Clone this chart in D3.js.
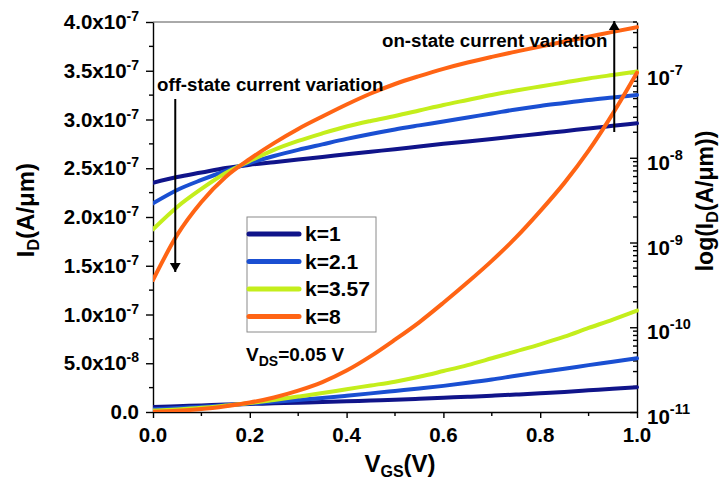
<!DOCTYPE html>
<html>
<head>
<meta charset="utf-8">
<script src="https://cdn.jsdelivr.net/npm/d3@7"></script>
<style>
  html, body { margin: 0; padding: 0; background: #fff; }
  svg { display: block; font-family: "Liberation Sans", Arial, sans-serif; font-weight: bold; }
</style>
</head>
<body>
<svg id="chart" width="723" height="481"></svg>
<script>
// Gate voltage sweep (V)
const vgs = [0, 0.05, 0.1, 0.15, 0.2, 0.25, 0.3, 0.35, 0.4, 0.45, 0.5,
             0.55, 0.6, 0.65, 0.7, 0.75, 0.8, 0.85, 0.9, 0.95, 1.0];

// Drain current I_D (A/um) for each k at VDS = 0.05 V
const idK1   = [5.08e-9, 5.93e-9, 6.70e-9, 7.57e-9, 8.26e-9, 8.87e-9, 9.52e-9, 1.02e-8, 1.10e-8, 1.18e-8, 1.26e-8,
                1.36e-8, 1.46e-8, 1.56e-8, 1.67e-8, 1.79e-8, 1.92e-8, 2.06e-8, 2.22e-8, 2.38e-8, 2.55e-8];
const idK21  = [2.90e-9, 4.17e-9, 5.47e-9, 6.98e-9, 8.67e-9, 1.05e-8, 1.24e-8, 1.44e-8, 1.67e-8, 1.91e-8, 2.16e-8,
                2.41e-8, 2.68e-8, 2.99e-8, 3.33e-8, 3.72e-8, 4.09e-8, 4.43e-8, 4.81e-8, 5.15e-8, 5.51e-8];
const idK357 = [1.43e-9, 2.63e-9, 4.29e-9, 6.61e-9, 9.16e-9, 1.24e-8, 1.58e-8, 1.94e-8, 2.34e-8, 2.72e-8, 3.11e-8,
                3.61e-8, 4.20e-8, 4.81e-8, 5.51e-8, 6.22e-8, 6.94e-8, 7.73e-8, 8.62e-8, 9.48e-8, 1.04e-7];
const idK8   = [3.61e-10, 1.23e-9, 3.01e-9, 5.93e-9, 9.67e-9, 1.49e-8, 2.19e-8, 3.07e-8, 4.25e-8, 5.73e-8, 7.42e-8,
                9.20e-8, 1.12e-7, 1.33e-7, 1.55e-7, 1.79e-7, 2.06e-7, 2.35e-7, 2.68e-7, 3.06e-7, 3.48e-7];

const seriesNames  = ["k=1", "k=2.1", "k=3.57", "k=8"];
const seriesColors = ["#10148a", "#1a4fd2", "#c4ee1c", "#ff6414"];
const seriesValues = [idK1, idK21, idK357, idK8];

// Axis ticks
const xTicks = [0, 0.2, 0.4, 0.6, 0.8, 1.0];
const xTickLabels = ["0.0", "0.2", "0.4", "0.6", "0.8", "1.0"];
const linTicks = [0, 5e-8, 1e-7, 1.5e-7, 2e-7, 2.5e-7, 3e-7, 3.5e-7, 4e-7];
const linTickMantissa = ["0.0", "5.0x10", "1.0x10", "1.5x10", "2.0x10", "2.5x10", "3.0x10", "3.5x10", "4.0x10"];
const linTickExponent = ["", "-8", "-7", "-7", "-7", "-7", "-7", "-7", "-7"];
const logTicks = [1e-11, 1e-10, 1e-9, 1e-8, 1e-7];
const logTickExponent = ["-11", "-10", "-9", "-8", "-7"];

const svg = d3.select("#chart");
const L = 153, R = 637, T = 22, B = 412;

const x = d3.scaleLinear().domain([0, 1]).range([L, R]);
const yLin = d3.scaleLinear().domain([0, 4e-7]).range([B, T]);
const yLog = d3.scaleLog().domain([1e-11, 4e-7]).range([B, T]);

// frame: top border
svg.append("line").attr("x1", L).attr("x2", R).attr("y1", T).attr("y2", T)
  .attr("stroke", "#555").attr("stroke-width", 1);

// bottom axis
const xMinor = [0.1, 0.3, 0.5, 0.7, 0.9];
const gx = svg.append("g").attr("transform", `translate(0,${B})`);
gx.call(d3.axisBottom(x).tickValues(xTicks).tickFormat("").tickSize(6).tickSizeOuter(0));
gx.selectAll(".minor").data(xMinor).join("line").attr("class", "minor")
  .attr("x1", d => x(d)).attr("x2", d => x(d)).attr("y1", 0).attr("y2", 4).attr("stroke", "#000");
gx.selectAll("path, line").attr("stroke", "#000").attr("stroke-width", 1.4);
svg.append("g").selectAll("text").data(xTicks).join("text")
  .attr("x", d => x(d)).attr("y", B + 30)
  .attr("text-anchor", "middle").attr("font-size", 20.5)
  .text((d, i) => xTickLabels[i]);

// left linear axis
const linMinor = linTicks.slice(0, -1).map(v => v + 2.5e-8);
const gy = svg.append("g").attr("transform", `translate(${L},0)`);
gy.call(d3.axisLeft(yLin).tickValues(linTicks).tickFormat("").tickSize(7).tickSizeOuter(0));
gy.selectAll(".minor").data(linMinor).join("line").attr("class", "minor")
  .attr("x1", 0).attr("x2", -4).attr("y1", d => yLin(d)).attr("y2", d => yLin(d));
gy.selectAll("path, line").attr("stroke", "#000").attr("stroke-width", 1.4);
const linLabels = svg.append("g").selectAll("text").data(linTicks).join("text")
  .attr("x", L - 14).attr("y", d => yLin(d) + 7)
  .attr("text-anchor", "end").attr("font-size", 20.5);
linLabels.append("tspan").text((d, i) => linTickMantissa[i]);
linLabels.append("tspan").attr("dy", -8).attr("font-size", 14).text((d, i) => linTickExponent[i]);

// right log axis (ticks inside)
const logMinor = [];
logTicks.forEach(t => { for (let m = 2; m <= 9; m++) { const v = t * m; if (v <= 4e-7) logMinor.push(v); } });
const gr = svg.append("g").attr("transform", `translate(${R},0)`);
gr.call(d3.axisRight(yLog).tickValues(logTicks).tickFormat("").tickSize(-7).tickSizeOuter(0));
gr.selectAll(".minor").data(logMinor).join("line").attr("class", "minor")
  .attr("x1", 0).attr("x2", -4).attr("y1", d => yLog(d)).attr("y2", d => yLog(d));
gr.selectAll("path, line").attr("stroke", "#000").attr("stroke-width", 1.4);
const logLabels = svg.append("g").selectAll("text").data(logTicks).join("text")
  .attr("x", R + 10).attr("y", d => yLog(d) + 12)
  .attr("text-anchor", "start").attr("font-size", 20.5);
logLabels.append("tspan").text("10");
logLabels.append("tspan").attr("dy", -10).attr("font-size", 14.5).text((d, i) => logTickExponent[i]);

// curves: each k drawn against both the log (right) and the linear (left) axis
svg.append("clipPath").attr("id", "plot-clip")
  .append("rect").attr("x", L).attr("y", T - 3).attr("width", R - L + 3).attr("height", B - T + 3);
const curves = svg.append("g").attr("clip-path", "url(#plot-clip)");
const lineLog = d3.line().x((d, i) => x(vgs[i])).y(d => yLog(d)).curve(d3.curveMonotoneX);
const lineLin = d3.line().x((d, i) => x(vgs[i])).y(d => yLin(d)).curve(d3.curveMonotoneX);
seriesValues.forEach((vals, k) => {
  curves.append("path").attr("d", lineLog(vals)).attr("fill", "none")
    .attr("stroke", seriesColors[k]).attr("stroke-width", 4).attr("stroke-linecap", "round");
});
seriesValues.forEach((vals, k) => {
  curves.append("path").attr("d", lineLin(vals)).attr("fill", "none")
    .attr("stroke", seriesColors[k]).attr("stroke-width", 4).attr("stroke-linecap", "round");
});

// legend
const lg = svg.append("g");
lg.append("rect").attr("x", 247).attr("y", 217).attr("width", 129).attr("height", 115)
  .attr("fill", "#fff").attr("stroke", "#8a8a8a").attr("stroke-width", 1);
seriesNames.forEach((name, k) => {
  const yy = 234 + k * 27.5;
  lg.append("line").attr("x1", 249).attr("x2", 299).attr("y1", yy).attr("y2", yy)
    .attr("stroke", seriesColors[k]).attr("stroke-width", 5).attr("stroke-linecap", "round");
  lg.append("text").attr("x", 305).attr("y", yy + 7).attr("font-size", 21).text(name);
});

// V_DS note
const vds = svg.append("text").attr("x", 246).attr("y", 361).attr("font-size", 19);
vds.append("tspan").text("V");
vds.append("tspan").attr("dy", 5).attr("font-size", 14).text("DS");
vds.append("tspan").attr("dy", -5).text("=0.05 V");

// annotations with arrows
const defs = svg.append("defs");
defs.append("marker").attr("id", "arrowhead").attr("viewBox", "0 0 10 20")
  .attr("refX", 10).attr("refY", 10).attr("markerWidth", 10).attr("markerHeight", 18)
  .attr("markerUnits", "userSpaceOnUse").attr("orient", "auto")
  .append("path").attr("d", "M0,4 L10,10 L0,16 Z").attr("fill", "#000");

svg.append("text").attr("x", 157).attr("y", 91).attr("font-size", 18.7).text("off-state current variation");
svg.append("line").attr("x1", x(0.046)).attr("x2", x(0.046)).attr("y1", 99).attr("y2", 272)
  .attr("stroke", "#000").attr("stroke-width", 2).attr("marker-end", "url(#arrowhead)");

svg.append("text").attr("x", 382).attr("y", 47).attr("font-size", 18.7).text("on-state current variation");
svg.append("line").attr("x1", x(0.953)).attr("x2", x(0.953)).attr("y1", 132).attr("y2", 21)
  .attr("stroke", "#000").attr("stroke-width", 2).attr("marker-end", "url(#arrowhead)");

// axis titles
const yt = svg.append("text").attr("transform", "translate(34,210) rotate(-90)")
  .attr("text-anchor", "middle").attr("font-size", 24);
yt.append("tspan").text("I");
yt.append("tspan").attr("dy", 5).attr("font-size", 16).text("D");
yt.append("tspan").attr("dy", -5).text("(A/\u03bcm)");

const rt = svg.append("text").attr("transform", "translate(713,201) rotate(-90)")
  .attr("text-anchor", "middle").attr("font-size", 23);
rt.append("tspan").text("log(I");
rt.append("tspan").attr("dy", 5).attr("font-size", 16).text("D");
rt.append("tspan").attr("dy", -5).text("(A/\u03bcm))");

const xt = svg.append("text").attr("x", 400).attr("y", 472).attr("text-anchor", "middle").attr("font-size", 24);
xt.append("tspan").text("V");
xt.append("tspan").attr("dy", 5).attr("font-size", 16).text("GS");
xt.append("tspan").attr("dy", -5).text("(V)");
</script>
</body>
</html>
